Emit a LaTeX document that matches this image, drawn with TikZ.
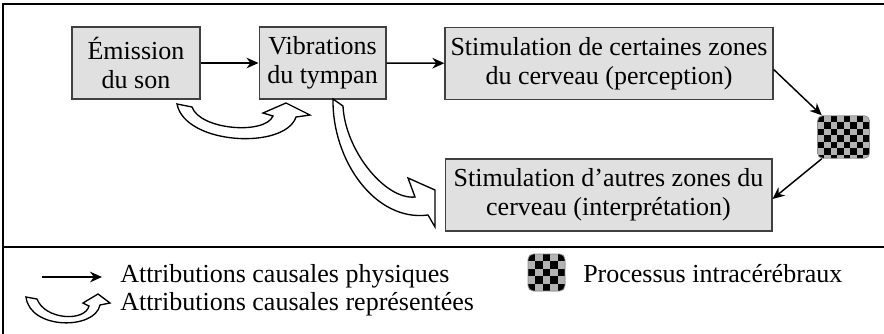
\documentclass[tikz,border=0pt]{standalone}
\usepackage{fontspec}
\setmainfont{Liberation Serif}
\usetikzlibrary{arrows.meta,calc}

\begin{document}
\begin{tikzpicture}[x=0.75pt,y=-0.75pt]
    \tikzset{box/.style = {shape=rectangle, draw=black!75, line width=1pt, fill=black!12, align=center, inner sep=0pt, minimum height=54pt, font=\fontsize{19.5}{22}\selectfont}}
    \tikzset{checkerbox/.style = {shape=rectangle, draw=black!45, line width=0.6pt, rounded corners=4pt,
        path picture={
            \fill[black!30, sharp corners] (path picture bounding box.south west) rectangle (path picture bounding box.north east);
            \foreach \i in {0,...,9}{\foreach \j in {0,...,9}{
                \pgfmathtruncatemacro\k{mod(\i+\j,2)}
                \ifnum\k=0 \fill[black, sharp corners] ([shift={(\i*#1,-\j*#1)}]path picture bounding box.north west) rectangle ++(#1,-#1); \fi}}
        }}}
    \tikzset{phys/.style = {draw=black, line width=1.1pt, -{Stealth[length=9pt,width=8pt]}}}
    \tikzset{hollow/.style = {draw=black, line width=1pt, fill=white, line join=miter}}
    \tikzset{lgtext/.style = {anchor=base west, inner sep=0pt, font=\fontsize{19.5}{22}\selectfont}}
    \tikzset{frame/.style = {draw=black, line width=1.5pt}}

    \useasboundingbox (0,0) rectangle (884,333);

    % frame
    \draw[frame] (3,4) rectangle (890,340);
    \draw[frame] (3,247) -- (890,247);

    % vertices
    \node[box, minimum width=96pt] (emis) at (136,63) {Émission\\du son};
    \node[box, minimum width=95pt] (vibr) at (322.5,63) {Vibrations\\du tympan};
    \node[box, minimum width=246pt] (stim1) at (609,63.5) {Stimulation de certaines zones\\du cerveau (perception)};
    \node[checkerbox=4.9pt, minimum width=39pt, minimum height=32pt] (proc) at (843.5,137) {};
    \node[box, minimum width=245pt] (stim2) at (608.5,195) {Stimulation d’autres zones du\\cerveau (interprétation)};

    % edges
    \draw[phys] (emis) -- (vibr);
    \draw[phys] (vibr) -- (stim1);
    \draw[phys] ($(stim1.east)+(0,6)$) -- (proc.135);
    \draw[phys] (proc.225) -- ($(stim2.east)+(0,4)$);

    % represented causal links
    \draw[hollow] (177,104) -- (192,107) .. controls (200,130) and (265,135) .. (273,116) -- (263,113) -- (286,103) -- (310,115) -- (296,117) .. controls (285,150) and (185,145) .. (177,104) -- cycle;
    \draw[hollow] (333,99) -- (343,106) .. controls (345,150) and (385,200) .. (415,197) -- (408,178) -- (435,190) -- (435,227) -- (428,215) .. controls (375,222) and (332,160) .. (333,99) -- cycle;

    % legend
    \coordinate (la1) at (42,277);
    \coordinate (la2) at (102,277);
    \draw[phys] (la1) -- (la2);
    \node[lgtext] (lg1) at (120,282) {Attributions causales physiques};
    \draw[hollow] (26,297) -- (37,299) .. controls (45,320) and (85,322) .. (89,306) -- (83,303) -- (98,294) -- (110,303) -- (100,305) .. controls (95,330) and (30,330) .. (26,297) -- cycle;
    \node[lgtext] (lg2) at (120,310) {Attributions causales représentées};
    \node[checkerbox=5.55pt, minimum width=27.75pt, minimum height=27.75pt] (lgproc) at (546.5,272.5) {};
    \node[lgtext] (lg3) at (583,282) {Processus intracérébraux};
\end{tikzpicture}
\end{document}
